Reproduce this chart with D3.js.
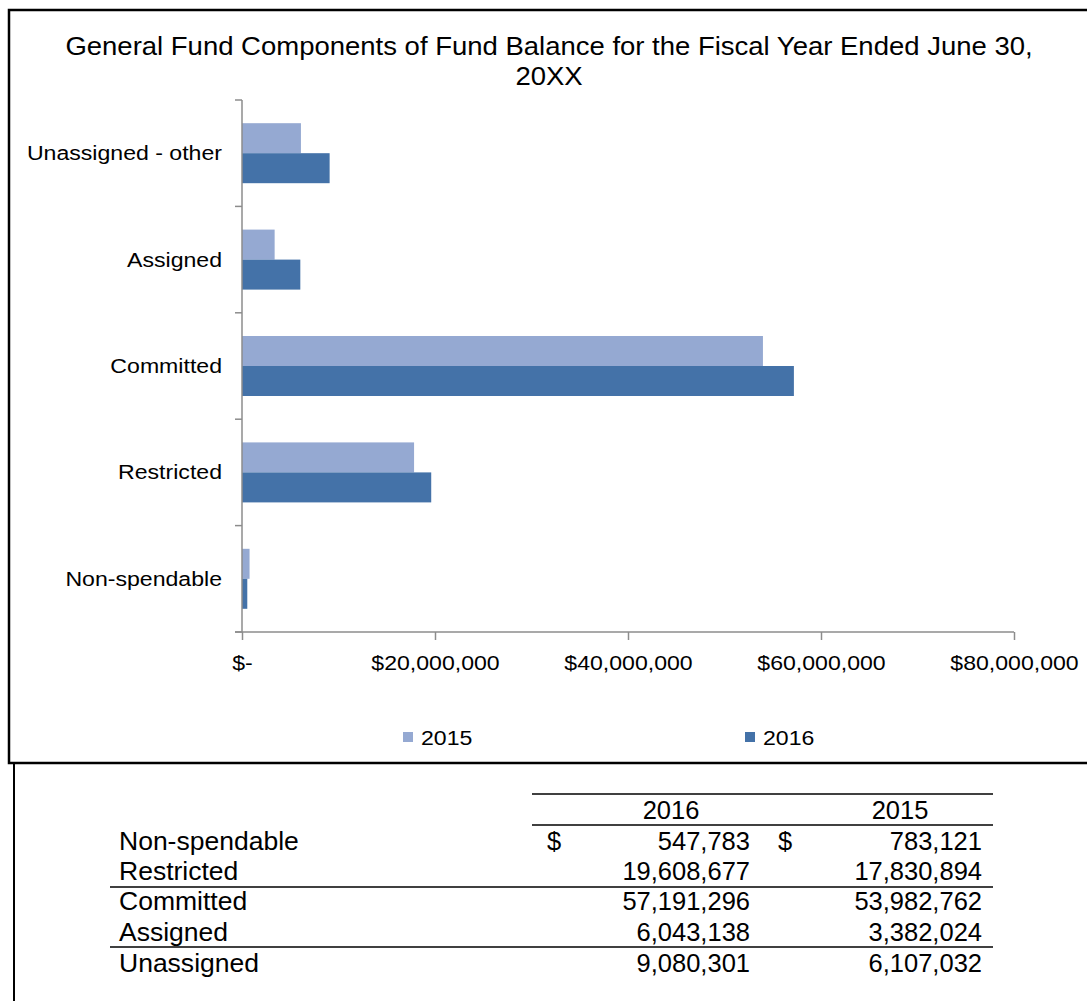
<!DOCTYPE html>
<html>
<head>
<meta charset="utf-8">
<script src="https://cdn.jsdelivr.net/npm/d3@7"></script>
<style>
  body { margin: 0; background: #fff; }
  svg { display: block; font-family: "Liberation Sans", Arial, sans-serif; }
</style>
</head>
<body>
<svg id="chart" width="1087" height="1001"></svg>
<script>
// chart data
var categories = ['Unassigned - other', 'Assigned', 'Committed', 'Restricted', 'Non-spendable'];
var series = ['2015', '2016'];
var chart2015 = [6107032, 3382024, 53982762, 17830894, 783121];
var chart2016 = [9080301, 6043138, 57191296, 19608677, 547783];
var xTicks = [0, 20000000, 40000000, 60000000, 80000000];

// table data
var tableLabels = ['Non-spendable', 'Restricted', 'Committed', 'Assigned', 'Unassigned'];
var table2016 = [547783, 19608677, 57191296, 6043138, 9080301];
var table2015 = [783121, 17830894, 53982762, 3382024, 6107032];
var tableHeaders = ['2016', '2015'];

var colors = { '2015': '#95a9d2', '2016': '#4472a8' };
var stretch = 1.1; // chart text in the original is a bit wide

var svg = d3.select('#chart');

// frame around the chart
svg.append('rect')
  .attr('x', 9).attr('y', 10)
  .attr('width', 1100).attr('height', 753)
  .attr('fill', 'none')
  .attr('stroke', '#000')
  .attr('stroke-width', 2.5);
svg.append('line')
  .attr('x1', 14).attr('x2', 14)
  .attr('y1', 764).attr('y2', 1001)
  .attr('stroke', '#000').attr('stroke-width', 2);

// title
var titleLines = ['General Fund Components of Fund Balance for the Fiscal Year Ended June 30,', '20XX'];
svg.selectAll('.title')
  .data(titleLines)
  .enter()
  .append('text')
  .attr('class', 'title')
  .attr('transform', function(d, i) { return 'translate(549,' + (55 + i * 30) + ') scale(' + stretch + ',1)'; })
  .attr('text-anchor', 'middle')
  .attr('font-size', 25)
  .attr('fill', '#000')
  .text(function(d) { return d; });

var x = d3.scaleLinear().domain([0, 80000000]).range([242, 1014]);
var y = d3.scaleBand().domain(categories).range([100, 632]);
var barH = 30;
var sub = d3.scaleBand().domain(series)
  .range([(y.step() - 2 * barH) / 2, (y.step() + 2 * barH) / 2]);

// bars
var rows = categories.map(function(c, i) {
  return { cat: c, vals: [ { s: '2015', v: chart2015[i] }, { s: '2016', v: chart2016[i] } ] };
});

var g = svg.selectAll('.cat')
  .data(rows)
  .enter()
  .append('g')
  .attr('class', 'cat')
  .attr('transform', function(d) { return 'translate(0,' + y(d.cat) + ')'; });

g.selectAll('rect')
  .data(function(d) { return d.vals; })
  .enter()
  .append('rect')
  .attr('x', x(0))
  .attr('y', function(d) { return sub(d.s); })
  .attr('height', sub.bandwidth())
  .attr('width', function(d) { return x(d.v) - x(0); })
  .attr('fill', function(d) { return colors[d.s]; });

// y axis (category) line and ticks on band edges
var axisColor = '#8c8c8c';
svg.append('line')
  .attr('x1', x(0)).attr('x2', x(0))
  .attr('y1', 100).attr('y2', 632)
  .attr('stroke', axisColor).attr('stroke-width', 1.5);
var edges = categories.map(function(c) { return y(c); }).concat([632]);
svg.selectAll('.ytick')
  .data(edges)
  .enter()
  .append('line')
  .attr('x1', x(0) - 7).attr('x2', x(0))
  .attr('y1', function(d) { return d; }).attr('y2', function(d) { return d; })
  .attr('stroke', axisColor).attr('stroke-width', 1.5);

svg.selectAll('.ylabel')
  .data(categories)
  .enter()
  .append('text')
  .attr('transform', function(d) {
    return 'translate(222,' + (y(d) + y.step() / 2 + 7) + ') scale(' + stretch + ',1)';
  })
  .attr('text-anchor', 'end')
  .attr('font-size', 21)
  .attr('fill', '#000')
  .text(function(d) { return d; });

// x axis
var xAxis = d3.axisBottom(x)
  .tickValues(xTicks)
  .tickSize(8)
  .tickFormat(function(d) { return d === 0 ? '$-' : '$' + d3.format(',')(d); });
var xg = svg.append('g')
  .attr('transform', 'translate(0,632)')
  .call(xAxis);
xg.select('.domain')
  .attr('d', 'M' + (x(0) - 7) + ',0H' + x(80000000))
  .attr('stroke', axisColor).attr('stroke-width', 1.5);
xg.selectAll('.tick line').attr('stroke', axisColor).attr('stroke-width', 1.5);
xg.selectAll('.tick text')
  .attr('y', 0)
  .attr('dy', null)
  .attr('transform', 'translate(0,38) scale(' + stretch + ',1)')
  .attr('font-size', 21)
  .attr('font-family', '"Liberation Sans", Arial, sans-serif')
  .attr('fill', '#000');

// legend
var legendX = [403, 745];
series.forEach(function(s, i) {
  svg.append('rect')
    .attr('x', legendX[i]).attr('y', 732)
    .attr('width', 10).attr('height', 10)
    .attr('fill', colors[s]);
  svg.append('text')
    .attr('transform', 'translate(' + (legendX[i] + 18) + ',745) scale(' + stretch + ',1)')
    .attr('font-size', 21)
    .attr('fill', '#000')
    .text(s);
});

// table below the chart
var fmt = d3.format(',');
var rowY = [850, 880, 910, 941, 972];
var tableFont = 25.5;

svg.append('line').attr('x1', 532).attr('x2', 993).attr('y1', 794).attr('y2', 794)
  .attr('stroke', '#000').attr('stroke-width', 1.3);
svg.append('line').attr('x1', 532).attr('x2', 993).attr('y1', 825).attr('y2', 825)
  .attr('stroke', '#000').attr('stroke-width', 1.3);
[887, 947].forEach(function(ly) {
  svg.append('line').attr('x1', 110).attr('x2', 993).attr('y1', ly).attr('y2', ly)
    .attr('stroke', '#000').attr('stroke-width', 1.3);
});

var headX = [671, 900];
tableHeaders.forEach(function(h, i) {
  svg.append('text')
    .attr('x', headX[i]).attr('y', 819)
    .attr('text-anchor', 'middle')
    .attr('font-size', tableFont)
    .text(h);
});

svg.selectAll('.tlabel')
  .data(tableLabels)
  .enter()
  .append('text')
  .attr('transform', function(d, i) { return 'translate(119,' + rowY[i] + ') scale(1.04,1)'; })
  .attr('font-size', tableFont)
  .text(function(d) { return d; });

svg.selectAll('.t2016')
  .data(table2016)
  .enter()
  .append('text')
  .attr('x', 750)
  .attr('y', function(d, i) { return rowY[i]; })
  .attr('text-anchor', 'end')
  .attr('font-size', tableFont)
  .text(function(d) { return fmt(d); });

svg.selectAll('.t2015')
  .data(table2015)
  .enter()
  .append('text')
  .attr('x', 982)
  .attr('y', function(d, i) { return rowY[i]; })
  .attr('text-anchor', 'end')
  .attr('font-size', tableFont)
  .text(function(d) { return fmt(d); });

[547, 778].forEach(function(dx) {
  svg.append('text')
    .attr('x', dx).attr('y', rowY[0])
    .attr('font-size', tableFont)
    .text('$');
});
</script>
</body>
</html>
